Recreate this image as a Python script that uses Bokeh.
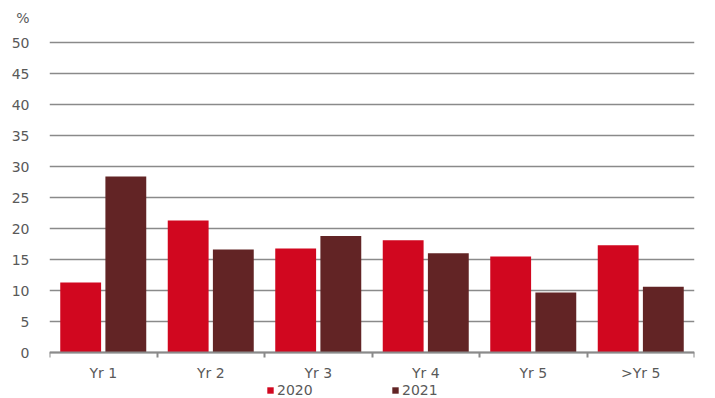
from bokeh.plotting import figure
from bokeh.models import ColumnDataSource, FixedTicker, Legend, LegendItem, Range1d
from bokeh.embed import file_html
from bokeh.resources import INLINE

categories = ["Yr 1", "Yr 2", "Yr 3", "Yr 4", "Yr 5", ">Yr 5"]
values_2020 = [11.3, 21.3, 16.8, 18.1, 15.5, 17.3]
values_2021 = [28.4, 16.6, 18.8, 16.0, 9.7, 10.6]
series_names = ["2020", "2021"]
y_ticks = [0, 5, 10, 15, 20, 25, 30, 35, 40, 45, 50]
unit_label = "%"

C2020 = "#D1071F"
C2021 = "#622425"
TXT = "#595959"
GRID = "#8a8a8a"
FONT = "DejaVu Sans"

centers = [i + 0.5 for i in range(len(categories))]
src = ColumnDataSource(dict(
    x20=[c - 0.21 for c in centers], x21=[c + 0.21 for c in centers],
    v20=values_2020, v21=values_2021))

unit_pos = 54.0
p = figure(width=715, height=398, output_backend="svg", toolbar_location=None,
           x_range=Range1d(0, len(categories)), y_range=Range1d(-7.42, 55.5),
           min_border_left=49, min_border_right=21, min_border_top=8, min_border_bottom=0)
p.outline_line_color = None
p.background_fill_color = "white"
p.border_fill_color = "white"

r1 = p.vbar(x="x20", top="v20", width=0.38, source=src, fill_color=C2020, line_color=None)
r2 = p.vbar(x="x21", top="v21", width=0.38, source=src, fill_color=C2021, line_color=None)

# y axis (with the unit label placed as an extra tick label above 50)
p.yaxis.ticker = FixedTicker(ticks=y_ticks + [unit_pos])
p.yaxis.major_label_overrides = {unit_pos: unit_label}
p.yaxis.axis_line_color = None
p.yaxis.major_tick_line_color = None
p.yaxis.minor_tick_line_color = None
p.yaxis.major_label_standoff = 14
p.yaxis.major_label_text_font = FONT
p.yaxis.major_label_text_font_size = "14px"
p.yaxis.major_label_text_color = TXT

# x axis at y = 0: labels at category centres, tick marks at category boundaries
p.xaxis.fixed_location = 0
p.xaxis.ticker = FixedTicker(ticks=centers, minor_ticks=list(range(len(categories) + 1)))
p.xaxis.major_label_overrides = {c: lab for c, lab in zip(centers, categories)}
p.xaxis.major_tick_line_color = None
p.xaxis.minor_tick_line_color = GRID
p.xaxis.minor_tick_line_width = 2
p.xaxis.minor_tick_out = 5
p.xaxis.minor_tick_in = 0
p.xaxis.axis_line_color = GRID
p.xaxis.axis_line_width = 2
p.xaxis.major_label_standoff = 6
p.xaxis.major_label_text_font = FONT
p.xaxis.major_label_text_font_size = "14px"
p.xaxis.major_label_text_color = TXT

p.xgrid.grid_line_color = None
p.ygrid.ticker = FixedTicker(ticks=y_ticks)
p.ygrid.grid_line_color = GRID
p.ygrid.grid_line_width = 1.6

legend = Legend(items=[LegendItem(label=series_names[0], renderers=[r1]),
                       LegendItem(label=series_names[1], renderers=[r2])],
                orientation="horizontal", location=(217, 0),
                glyph_width=8, glyph_height=8, label_standoff=3, spacing=0,
                label_width=114, label_height=14,
                label_text_font=FONT, label_text_font_size="14px", label_text_color=TXT,
                border_line_color=None, background_fill_alpha=0, padding=0, margin=0)
p.add_layout(legend, "center")

open("out.html", "w").write(file_html(p, INLINE))
